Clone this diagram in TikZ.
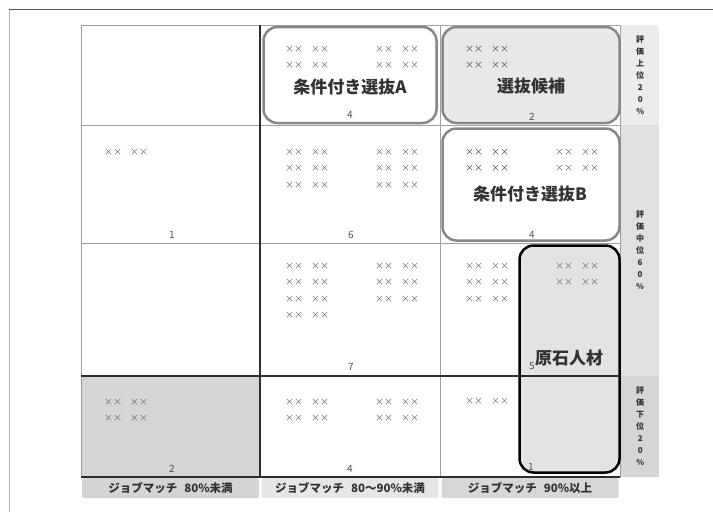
\documentclass[tikz,border=0pt]{standalone}
\usepackage{fontspec}
\setmainfont{Noto Sans CJK JP}
\usetikzlibrary{positioning}
\newcommand{\xxrow}{××\hspace{8pt}××}

\begin{document}
\begin{tikzpicture}[x=1pt, y=-1pt,
cell/.style={draw=gridgray, line width=1pt, inner sep=0pt, outer sep=0pt},
group/.style={draw=boxgray, line width=2.5pt, rounded corners=14pt, inner sep=0pt},
names/.style={text=namegray, font=\fontsize{9}{16.5}\selectfont, align=left, anchor=north west, inner sep=0pt},
count/.style={text=numgray, font=\fontsize{10}{12}\selectfont, inner sep=0pt},
title/.style={text=titlegray, font=\fontsize{17}{19}\selectfont\bfseries, inner sep=0pt},
xlabel/.style={minimum width=177pt, minimum height=20pt, inner sep=0pt, rounded corners=1.5pt, text=titlegray, font=\fontsize{11.5}{12}\selectfont\bfseries},
ylabel/.style={minimum width=38pt, inner sep=0pt, align=center, text=titlegray, font=\fontsize{8}{12}\selectfont\bfseries},
dark/.style={draw=darkline, line width=1.2pt}]

% Define colors
\definecolor{gridgray}{RGB}{160,160,160}
\definecolor{boxgray}{RGB}{135,135,135}
\definecolor{darkline}{RGB}{45,45,45}
\definecolor{namegray}{RGB}{105,105,105}
\definecolor{namedark}{RGB}{70,70,70}
\definecolor{numgray}{RGB}{80,80,80}
\definecolor{titlegray}{RGB}{50,50,50}
\definecolor{lowfill}{RGB}{213,213,213}
\definecolor{candfill}{RGB}{232,232,232}
\definecolor{gemfill}{RGB}{227,227,227}
\definecolor{lab1}{RGB}{212,212,212}
\definecolor{lab2}{RGB}{230,230,230}
\definecolor{lab3}{RGB}{215,215,215}
\definecolor{rank1}{RGB}{236,236,236}
\definecolor{rank2}{RGB}{224,224,224}
\definecolor{rank3}{RGB}{213,213,213}

\useasboundingbox (0,0) rectangle (713,512);

% Frame
\draw[gray!60, line width=1pt] (9,512) -- (9,9);
\draw[darkline!80, line width=1pt] (9,9) -- (713,9);

% Cells
\node[cell, minimum width=179pt, minimum height=100pt] (c11) at (170.5,75) {};
\node[cell, minimum width=180pt, minimum height=100pt, right=0pt of c11] (c12) {};
\node[cell, minimum width=180pt, minimum height=100pt, right=0pt of c12] (c13) {};
\node[cell, minimum width=179pt, minimum height=118pt, below=0pt of c11] (c21) {};
\node[cell, minimum width=180pt, minimum height=118pt, right=0pt of c21] (c22) {};
\node[cell, minimum width=180pt, minimum height=118pt, right=0pt of c22] (c23) {};
\node[cell, minimum width=179pt, minimum height=133pt, below=0pt of c21] (c31) {};
\node[cell, minimum width=180pt, minimum height=133pt, right=0pt of c31] (c32) {};
\node[cell, minimum width=180pt, minimum height=133pt, right=0pt of c32] (c33) {};
\node[cell, fill=lowfill, minimum width=179pt, minimum height=101pt, below=0pt of c31] (c41) {};
\node[cell, minimum width=180pt, minimum height=101pt, right=0pt of c41] (c42) {};
\node[cell, minimum width=180pt, minimum height=101pt, right=0pt of c42] (c43) {};

% Groups
\node[group, fill=white, minimum width=173pt, minimum height=96pt] (selA) at (350,75) {};
\node[group, fill=candfill, minimum width=177pt, minimum height=96pt] (cand) at (531,75) {};
\node[group, fill=white, minimum width=177pt, minimum height=112pt] (selB) at (531,184.5) {};
\node[group, draw=black, fill=gemfill, minimum width=100pt, minimum height=227pt] (gem) at (569.5,359) {};

\draw[dark] (c11.north east) -- (c41.south east);
\draw[dark] (c41.north west) -- (c43.north east);
\draw[dark] (c41.south west) -- (c43.south east);

% Axis labels
\node[xlabel, fill=lab1, below=1pt of c41] (m1) {ジョブマッチ\hspace{7pt}80\%未満};
\node[xlabel, fill=lab2, below=1pt of c42] (m2) {ジョブマッチ\hspace{7pt}80～90\%未満};
\node[xlabel, fill=lab3, below=1pt of c43] (m3) {ジョブマッチ\hspace{7pt}90\%以上};
\node[ylabel, fill=rank1, minimum height=100pt, right=1pt of c13] (r1) {評\\価\\上\\位\\2\\0\\\%};
\node[ylabel, fill=rank2, minimum height=251pt] (r2) at (640,250.5) {評\\価\\中\\位\\6\\0\\\%};
\node[ylabel, fill=rank3, minimum height=101pt, right=1pt of c43] (r3) {評\\価\\下\\位\\2\\0\\\%};

% Names
\node[names] (n1) at (285,46) {\xxrow\\\xxrow};
\node[names] (n2) at (375,46) {\xxrow\\\xxrow};
\node[names, text=namedark] (n3) at (465,46) {\xxrow\\\xxrow};
\node[names] (n4) at (104,149) {\xxrow};
\node[names] (n5) at (285,149) {\xxrow\\\xxrow\\\xxrow};
\node[names] (n6) at (375,149) {\xxrow\\\xxrow\\\xxrow};
\node[names, text=namedark] (n7) at (465,149) {\xxrow\\\xxrow};
\node[names] (n8) at (555,149) {\xxrow\\\xxrow};
\node[names] (n9) at (285,263) {\xxrow\\\xxrow\\\xxrow\\\xxrow};
\node[names] (n10) at (375,263) {\xxrow\\\xxrow\\\xxrow};
\node[names] (n11) at (465,263) {\xxrow\\\xxrow\\\xxrow};
\node[names] (n12) at (555,263) {\xxrow\\\xxrow};
\node[names] (n13) at (104,399) {\xxrow\\\xxrow};
\node[names] (n14) at (285,399) {\xxrow\\\xxrow};
\node[names] (n15) at (375,399) {\xxrow\\\xxrow};
\node[names] (n16) at (465,398) {\xxrow};

% Titles
\node[title] (tA) at (350,87) {条件付き選抜A};
\node[title] (tC) at (531,86) {選抜候補};
\node[title] (tB) at (530,194) {条件付き選抜B};
\node[title] (tG) at (569,358) {原石人材};

% Counts
\node[count] (k12) at (350,115) {4};
\node[count] (k13) at (532,117) {2};
\node[count] (k21) at (172,235) {1};
\node[count] (k22) at (351,235) {6};
\node[count] (k23) at (532,235) {4};
\node[count] (k32) at (351,367) {7};
\node[count] (k33) at (532,366) {5};
\node[count] (k41) at (172,469) {2};
\node[count] (k42) at (350,469) {4};
\node[count] (k43) at (531,467) {1};

\end{tikzpicture}
\end{document}
